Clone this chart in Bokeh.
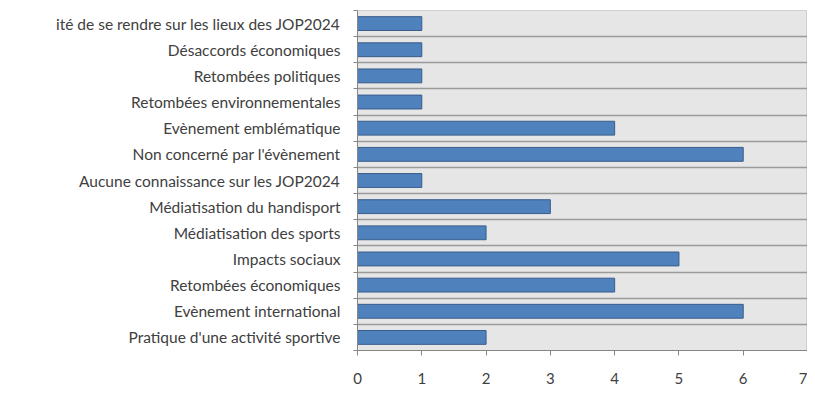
from bokeh.plotting import figure
from bokeh.models import Range1d, FixedTicker
from bokeh.embed import file_html
from bokeh.resources import INLINE

# Categories listed top to bottom as in the chart
categories = [
    "ité de se rendre sur les lieux des JOP2024",
    "Désaccords économiques",
    "Retombées politiques",
    "Retombées environnementales",
    "Evènement emblématique",
    "Non concerné par l'évènement",
    "Aucune connaissance sur les JOP2024",
    "Médiatisation du handisport",
    "Médiatisation des sports",
    "Impacts sociaux",
    "Retombées économiques",
    "Evènement international",
    "Pratique d'une activité sportive",
]
values = [1, 1, 1, 1, 4, 6, 1, 3, 2, 5, 4, 6, 2]
x_ticks = [0, 1, 2, 3, 4, 5, 6, 7]

n = len(categories)
# bottom category at position 0
ypos = [n - 1 - i for i in range(n)]

p = figure(width=807, height=386, output_backend="svg", toolbar_location=None,
           x_range=Range1d(0, 7), y_range=Range1d(-0.5, n - 0.5))
p.min_border_left = 357
p.min_border_right = 0
p.min_border_top = 10
p.min_border_bottom = 36
p.background_fill_color = "#e6e6e6"
p.border_fill_color = "white"
p.outline_line_color = "#d0d0d0"

p.hbar(y=ypos, right=values, left=0, height=0.53,
       fill_color="#4f81bd", line_color="#385d8a", line_width=1)

font = "Lato"
# y axis
yt = FixedTicker(ticks=list(range(n)), minor_ticks=[k - 0.5 for k in range(n + 1)])
p.yaxis.ticker = yt
p.yaxis.major_label_overrides = {ypos[i]: categories[i] for i in range(n)}
p.yaxis.major_tick_out = 0
p.yaxis.major_tick_in = 0
p.yaxis.minor_tick_out = 4
p.yaxis.minor_tick_in = 0
p.yaxis.minor_tick_line_color = "#868686"
p.yaxis.axis_line_color = "#868686"
p.yaxis.major_label_standoff = 13
p.yaxis.major_label_text_font = font
p.yaxis.major_label_text_font_size = "15.5px"
p.yaxis.major_label_text_color = "#404040"

# x axis
p.xaxis.ticker = FixedTicker(ticks=x_ticks, minor_ticks=[])
p.xaxis.axis_line_color = "#868686"
p.xaxis.major_tick_line_color = "#868686"
p.xaxis.major_tick_out = 5
p.xaxis.major_tick_in = 0
p.xaxis.minor_tick_line_color = None
p.xaxis.major_label_standoff = 17
p.xaxis.major_label_text_font = font
p.xaxis.major_label_text_font_size = "15px"
p.xaxis.major_label_text_color = "#404040"

# grids: horizontal lines at category boundaries only
p.xgrid.grid_line_color = None
p.ygrid.ticker = FixedTicker(ticks=[k - 0.5 for k in range(n + 1)])
p.ygrid.grid_line_color = "#9a9a9a"
p.ygrid.grid_line_width = 1.5

open("out.html", "w").write(file_html(p, INLINE))
